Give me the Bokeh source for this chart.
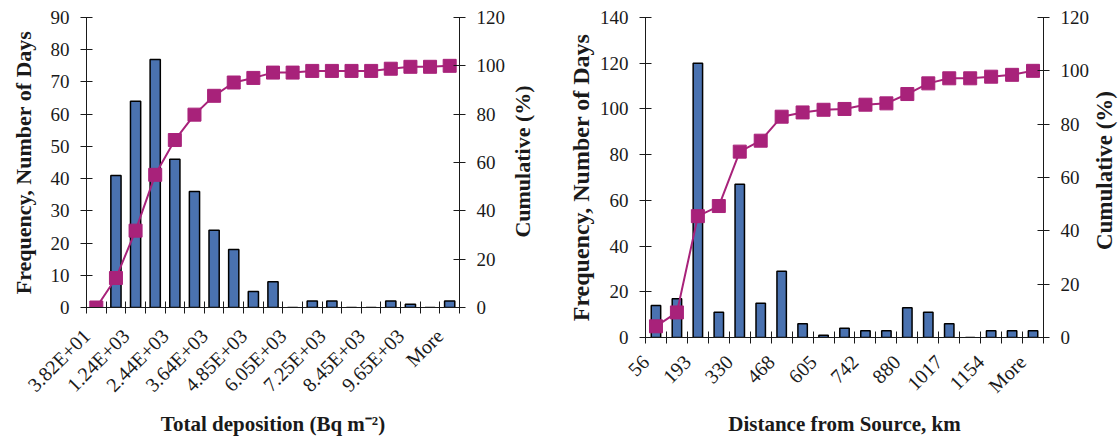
import math
from bokeh.plotting import figure
from bokeh.models import Range1d, LinearAxis, FixedTicker, ColumnDataSource, Label
from bokeh.layouts import row
from bokeh.embed import file_html
from bokeh.resources import INLINE

FONT = "Liberation Serif"
BAR = "#4A72B0"
MAG = "#A8227A"
INK = "#1a1a1a"

# ---- Left chart: total deposition histogram ----
dep_labels = ["3.82E+01", "6.39E+02", "1.24E+03", "1.84E+03", "2.44E+03", "3.04E+03",
              "3.64E+03", "4.25E+03", "4.85E+03", "5.45E+03", "6.05E+03", "6.65E+03",
              "7.25E+03", "7.85E+03", "8.45E+03", "9.05E+03", "9.65E+03", "1.03E+04", "More"]
dep_freq = [0, 41, 64, 77, 46, 36, 24, 18, 5, 8, 0, 2, 2, 0, 0, 2, 1, 0, 2]
dep_cum = [0, 12.2, 31.8, 54.9, 69.3, 79.8, 87.6, 93.1, 95.0, 97.2, 97.2, 97.9,
           97.9, 97.9, 97.9, 98.8, 99.6, 99.6, 100]

# ---- Right chart: distance from source histogram ----
dist_labels = ["56", "125", "193", "262", "330", "399", "468", "536", "605", "674",
               "742", "811", "880", "948", "1017", "1086", "1154", "1223", "More"]
dist_freq = [14, 17, 120, 11, 67, 15, 29, 6, 1, 4, 3, 3, 13, 11, 6, 0, 3, 3, 3]
dist_cum = [4.2, 9.4, 45.5, 49.3, 69.7, 73.8, 82.8, 84.4, 85.4, 85.7, 87.3, 87.8,
            91.3, 95.3, 97.2, 97.2, 97.8, 98.5, 100]

cum_ticks = [0, 20, 40, 60, 80, 100, 120]


def style_axis(ax, title_size):
    ax.axis_line_color = INK
    ax.axis_line_width = 1
    ax.major_tick_line_color = INK
    ax.major_tick_in = 6
    ax.major_tick_out = 6
    ax.minor_tick_line_color = None
    ax.major_label_text_font = FONT
    ax.major_label_text_font_size = "19px"
    ax.major_label_text_color = INK
    ax.major_label_standoff = 11
    ax.axis_label_text_font = FONT
    ax.axis_label_text_font_size = title_size
    ax.axis_label_text_font_style = "bold"
    ax.axis_label_text_color = INK


def make_chart(labels, freq, cum, yticks, ytitle, xtitle, frame, borders, bar_width,
               ytitle_size, ytitle_standoff, lab_standoff, xtitle_standoff,
               cum_title_pos, cum_title_size):
    n = len(labels)
    xs = list(range(n))
    fw, fh = frame
    left, right, top, bottom = borders
    src = ColumnDataSource(dict(x=xs, freq=freq, cum=cum))
    p = figure(frame_width=fw, frame_height=fh, output_backend="svg", toolbar_location=None,
               x_range=Range1d(-0.5, n - 0.5), y_range=Range1d(0, yticks[-1]),
               min_border_left=left, min_border_right=right,
               min_border_top=top, min_border_bottom=bottom,
               x_axis_location=None, y_axis_location=None)
    p.outline_line_color = None
    p.grid.visible = False
    p.extra_y_ranges = {"cum": Range1d(0, 120)}

    yl = LinearAxis(ticker=FixedTicker(ticks=yticks), axis_label=ytitle)
    style_axis(yl, ytitle_size)
    yl.axis_label_standoff = ytitle_standoff
    p.add_layout(yl, "left")

    yr = LinearAxis(y_range_name="cum", ticker=FixedTicker(ticks=cum_ticks))
    style_axis(yr, ytitle_size)
    p.add_layout(yr, "right")
    # right-hand title reads bottom-to-top, as in the original
    p.add_layout(Label(x=cum_title_pos[0], y=cum_title_pos[1], x_units="screen",
                       y_units="screen", text="Cumulative (%)", angle=math.pi / 2,
                       text_align="center", text_baseline="middle", text_font=FONT,
                       text_font_size=cum_title_size, text_font_style="bold",
                       text_color=INK), "right")

    # category boundaries carry the ticks; every other category is labelled
    bounds = [i - 0.5 for i in range(n + 1)]
    major = bounds[0:n:2]
    minor = [b for b in bounds if b not in major]
    xl = LinearAxis(ticker=FixedTicker(ticks=major, minor_ticks=minor),
                    major_label_overrides={i - 0.5: labels[i] for i in xs[::2]},
                    axis_label=xtitle)
    style_axis(xl, "21px")
    xl.minor_tick_line_color = INK
    xl.minor_tick_in = 6
    xl.minor_tick_out = 6
    xl.major_label_text_font_size = "20px"
    xl.major_label_orientation = math.pi / 4
    xl.major_label_standoff = lab_standoff
    xl.axis_label_standoff = xtitle_standoff
    p.add_layout(xl, "below")

    p.vbar(x="x", top="freq", width=bar_width, source=src,
           fill_color=BAR, line_color="black", line_width=1.5)
    p.line(x="x", y="cum", source=src, y_range_name="cum",
           line_color=MAG, line_width=2)
    p.scatter(x="x", y="cum", source=src, y_range_name="cum", marker="square",
              size=13, fill_color=MAG, line_color=MAG)
    return p


p1 = make_chart(dep_labels, dep_freq, dep_cum, list(range(0, 91, 10)),
                "Frequency, Number of Days", "Total deposition (Bq m\u207b\u00b2)",
                (373, 290), (86, 101, 15, 135), 0.52, "22px", 12, 19, 5, (14, 146), "22px")
p2 = make_chart(dist_labels, dist_freq, dist_cum, list(range(0, 141, 20)),
                "Frequency, Number of Days", "Distance from Source, km",
                (398, 320), (85, 77, 17, 103), 0.45, "24px", 3, 15, 4, (12, 167), "23px")

layout = row(p1, p2)
open("out.html", "w").write(file_html(layout, INLINE))
